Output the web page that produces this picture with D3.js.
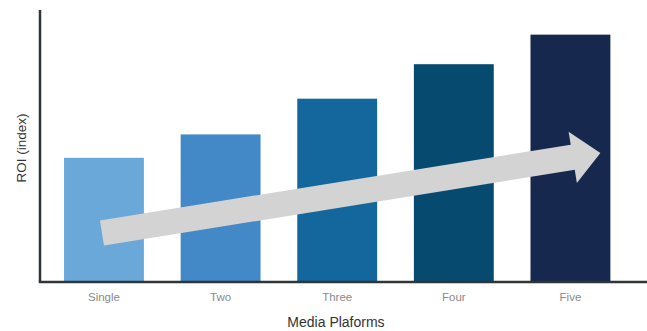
<!DOCTYPE html>
<html><head><meta charset="utf-8">
<script src="https://cdn.jsdelivr.net/npm/d3@7"></script>
<style>body{margin:0;background:#fff}svg{display:block}</style>
</head><body><svg id="c" width="647" height="331"></svg>
<script>
const categories = ["Single", "Two", "Three", "Four", "Five"];
const values = [100, 119, 148, 176, 200];
const colors = ["#6ba8da", "#4388c7", "#13679c", "#064a70", "#17284e"];
const xTitle = "Media Plaforms";
const yTitle = "ROI (index)";
// trend arrow annotation in data terms: [category, fraction across band, value]
const arrowFrom = ["Single", 0.475, 39];
const arrowTo = ["Five", 0.875, 104];

(function () {
const svg = d3.select("#c");
const mL = 40, mT = 10, mB = 281, mR = 647;
const x = d3.scaleBand().domain(categories).range([40.7, 633.7]).paddingInner(0.315).paddingOuter(0.2);
const y = d3.scaleLinear().domain([0, 220]).range([mB, mT]);

svg.selectAll("rect.bar").data(categories).join("rect").attr("class", "bar")
  .attr("x", d => x(d)).attr("width", x.bandwidth())
  .attr("y", (d, i) => y(values[i])).attr("height", (d, i) => mB - y(values[i]))
  .attr("fill", (d, i) => colors[i]);

// arrow
const p0 = [x(arrowFrom[0]) + x.bandwidth() * arrowFrom[1], y(arrowFrom[2])];
const p1 = [x(arrowTo[0]) + x.bandwidth() * arrowTo[1], y(arrowTo[2])];
const L = Math.hypot(p1[0] - p0[0], p1[1] - p0[1]);
const ang = Math.atan2(p1[1] - p0[1], p1[0] - p0[0]) * 180 / Math.PI;
const sw = 12.7, hw = 26, hl = 28;
const pts = [[0, -sw], [L - hl, -sw], [L - hl, -hw], [L, 0], [L - hl, hw], [L - hl, sw], [0, sw]];
svg.append("path").attr("d", d3.line()(pts) + "Z")
  .attr("transform", `translate(${p0[0]},${p0[1]}) rotate(${ang})`)
  .attr("fill", "#d3d3d3");

// axes
const xAxis = d3.axisBottom(x).tickSize(0).tickPadding(12);
const gx = svg.append("g").attr("transform", `translate(0,${mB})`).call(xAxis);
gx.select(".domain").remove();
gx.selectAll("text").attr("font-family", "Liberation Sans, Arial, sans-serif").attr("font-size", 11.5).attr("fill", "#8a8a8a");

svg.append("line").attr("x1", mL).attr("x2", mL).attr("y1", mT).attr("y2", mB + 1.2)
  .attr("stroke", "#2f3538").attr("stroke-width", 2.5);
svg.append("line").attr("x1", mL - 1.2).attr("x2", mR).attr("y1", mB + 1).attr("y2", mB + 1)
  .attr("stroke", "#2f3538").attr("stroke-width", 2.5);

svg.append("text").attr("x", 336).attr("y", 327).attr("text-anchor", "middle")
  .attr("font-family", "Liberation Sans, Arial, sans-serif").attr("font-size", 14).attr("fill", "#333")
  .text(xTitle);
svg.append("text").attr("transform", "translate(26,148) rotate(-90)").attr("text-anchor", "middle")
  .attr("font-family", "Liberation Sans, Arial, sans-serif").attr("font-size", 13.5).attr("fill", "#333")
  .text(yTitle);
})();
</script></body></html>
